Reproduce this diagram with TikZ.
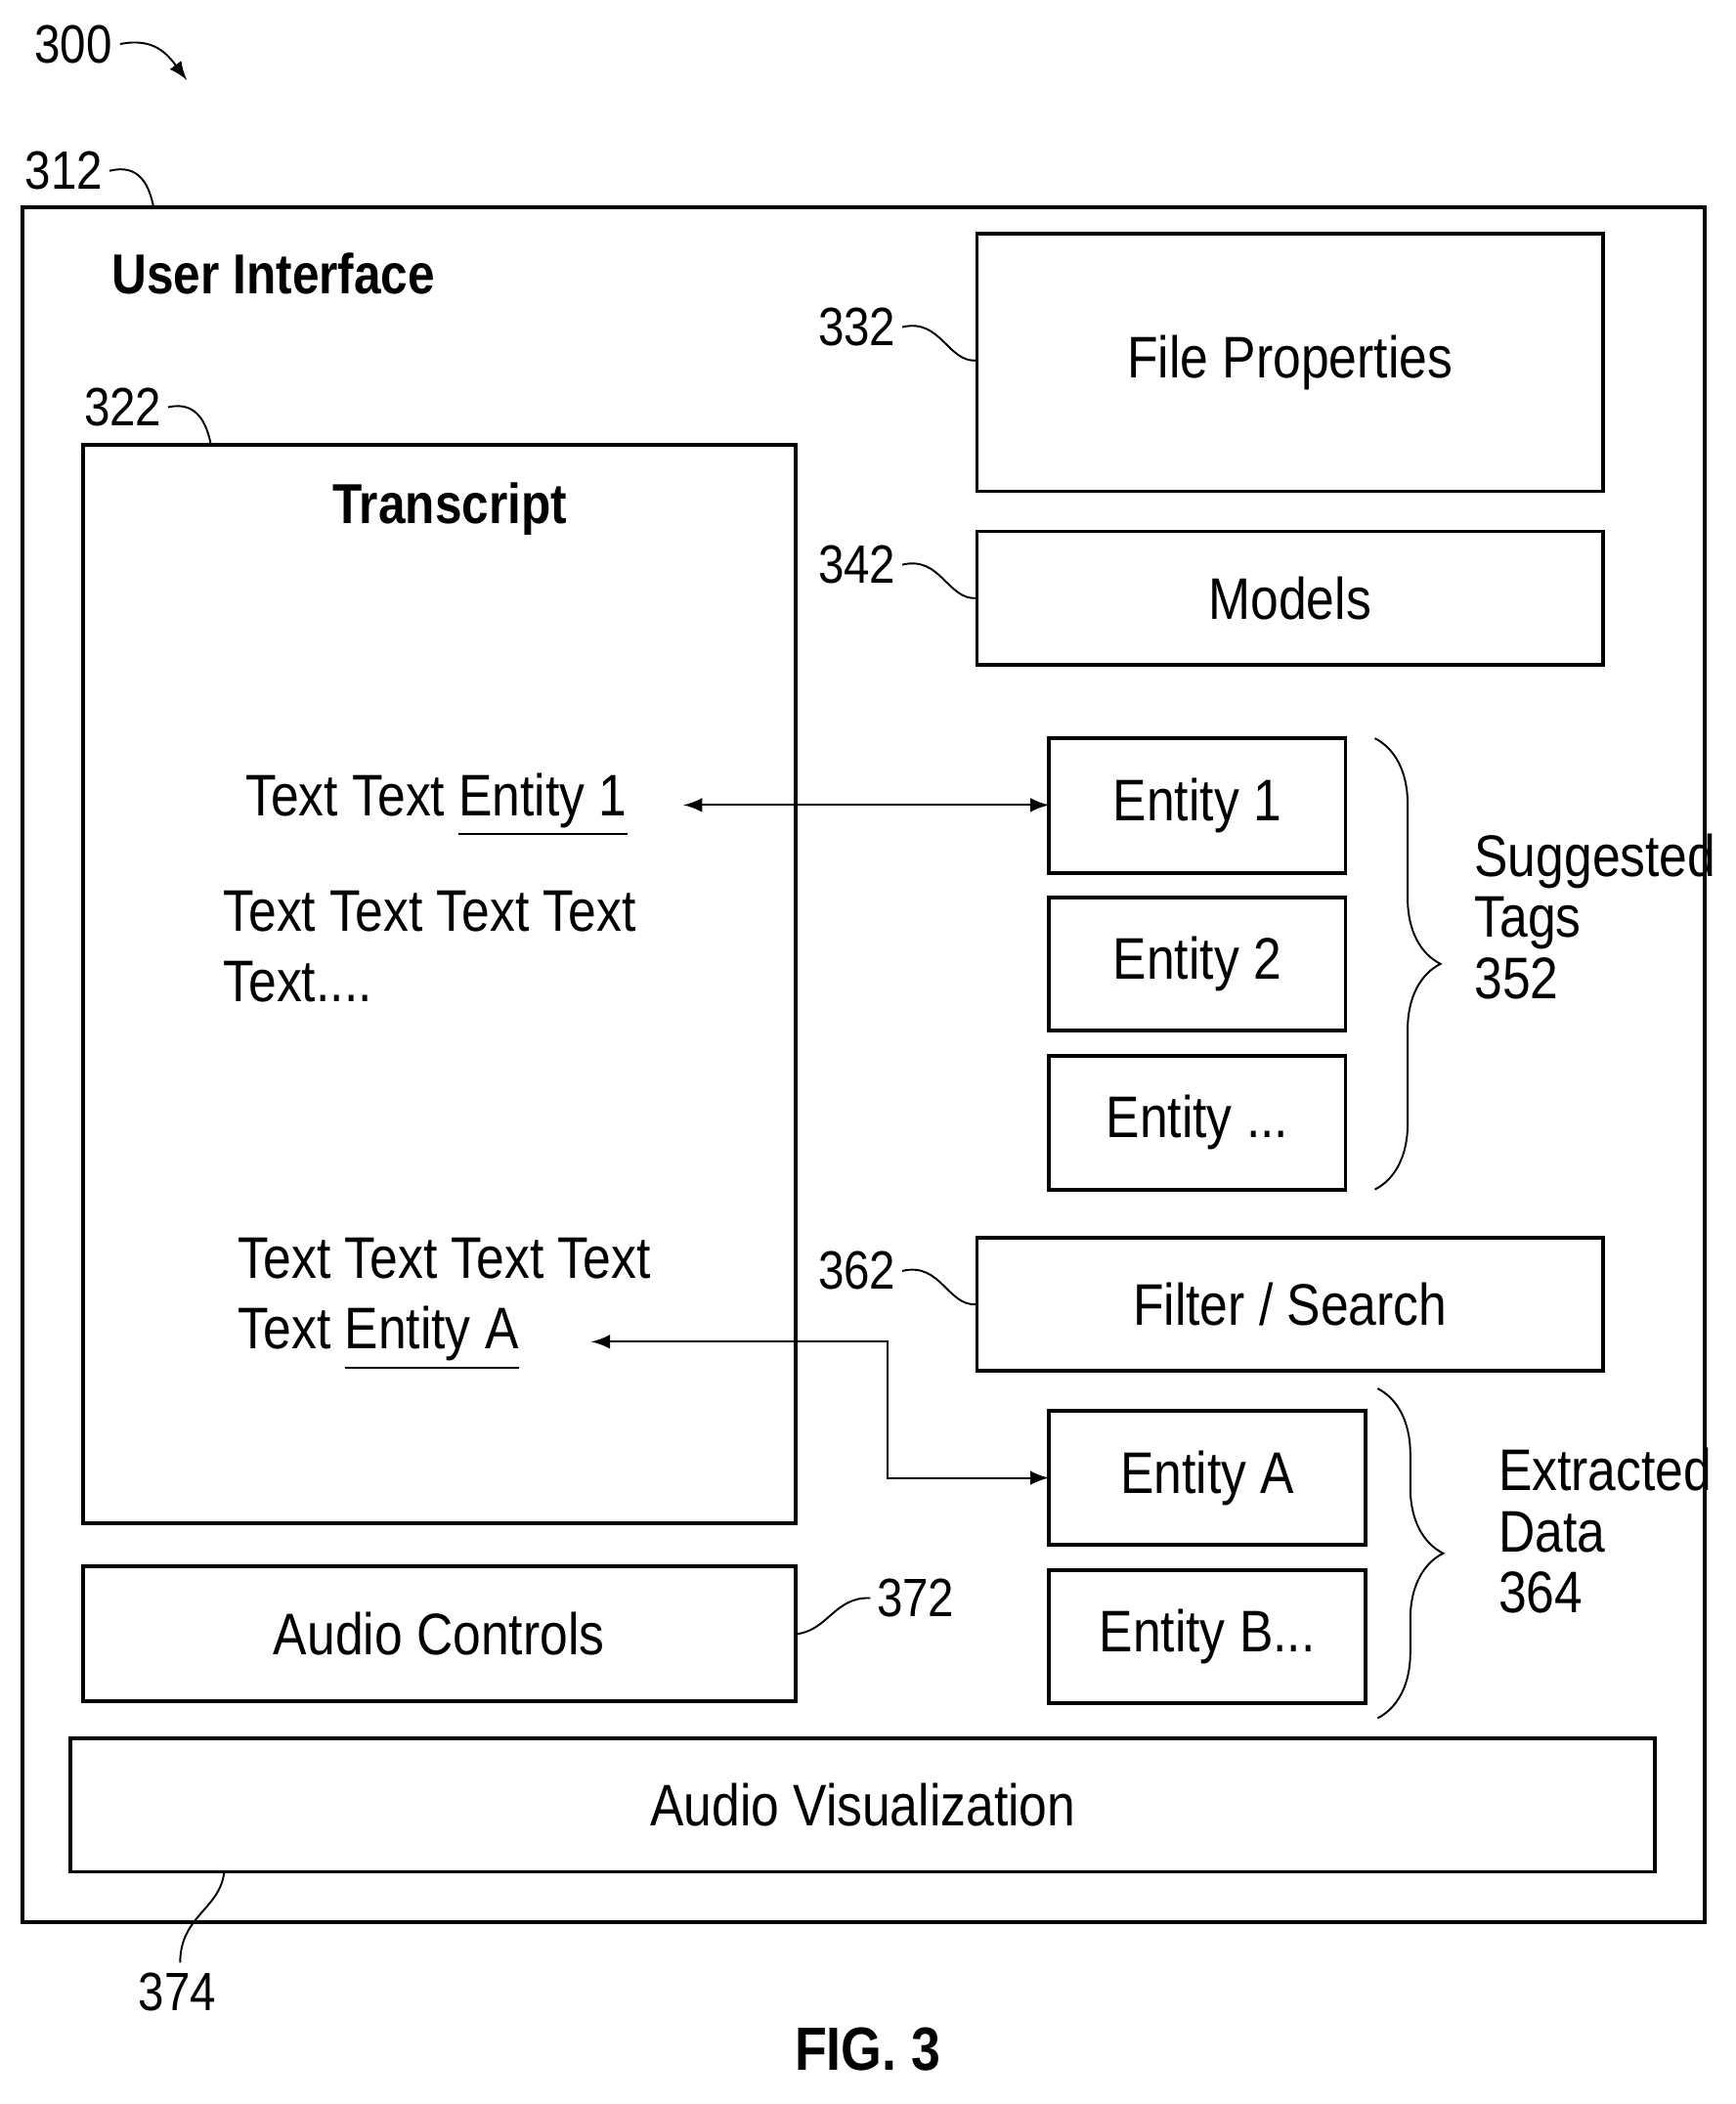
\documentclass[tikz,border=0pt]{standalone}
\usepackage{fontspec}
\setmainfont[FakeStretch=0.86]{Liberation Sans}
\usetikzlibrary{positioning,calc,decorations.pathreplacing}
\begin{document}
\begin{tikzpicture}[x=0.01cm,y=-0.01cm,
box/.style={draw,thick,inner sep=0pt},
lbl/.style={font=\fontsize{12.5}{15}\selectfont},
ref/.style={font=\fontsize{11.5}{14}\selectfont},
ttl/.style={font=\bfseries\fontsize{12}{14}\selectfont},
lead/.style={thin}]
\useasboundingbox (0,0) rectangle (1300,1576);

% outer frame
\draw[box] (17,155) rectangle (1277,1440);
\node[ttl] (ui) at (205,205) {User Interface};

% transcript
\draw[box] (62,333) rectangle (596,1141);
\node[ttl] (ts) at (337,381) {Transcript};
\node[lbl] (t1) at (327,603) {Text Text \underline{Entity 1}};
\node[lbl,anchor=west,align=left] (t2) at (155,709) {Text Text Text Text\\Text....};
\node[lbl,anchor=west,align=left] (t3) at (166,977) {Text Text Text Text\\Text \underline{Entity A}};

% right column
\draw[box] (732,175) rectangle (1201,368) node[midway,lbl] {File Properties};
\draw[box] (732,398) rectangle (1201,498) node[midway,lbl] {Models};
\draw[box] (786,553) rectangle (1008,654) node[midway,lbl] (e1) {Entity 1};
\draw[box] (786,672) rectangle (1008,772) node[midway,lbl] {Entity 2};
\draw[box] (786,791) rectangle (1008,891) node[midway,lbl] {Entity ...};
\draw[box] (732,927) rectangle (1201,1027) node[midway,lbl] {Filter / Search};
\draw[box] (786,1057) rectangle (1023,1157) node[midway,lbl] (ea) {Entity A};
\draw[box] (786,1176) rectangle (1023,1276) node[midway,lbl] {Entity B...};
\draw[box] (62,1173) rectangle (596,1274) node[midway,lbl] {Audio Controls};
\draw[box] (53,1302) rectangle (1240,1402) node[midway,lbl] {Audio Visualization};

% connectors
\coordinate (a1) at (512,603);
\coordinate (b1) at (786,603);
\draw[latex-latex] (a1) -- (b1);
\coordinate (a2) at (443,1005);
\coordinate (b2) at (786,1107);
\draw[latex-latex] (a2) -- (665,1005) -- (665,1107) -- (b2);

% braces
\draw[thin,decorate,decoration={brace,amplitude=14pt}] (1030,553) -- (1030,891);
\node[lbl,anchor=north west,align=left,inner sep=0pt] (st) at (1104,624) {Suggested\\[-2pt]Tags\\[-2pt]352};
\draw[thin,decorate,decoration={brace,amplitude=14pt}] (1032,1040) -- (1032,1287);
\node[lbl,anchor=north west,align=left,inner sep=0pt] (ed) at (1122,1084) {Extracted\\[-2pt]Data\\[-2pt]364};

% reference numerals
\node[ref] (n300) at (55,33) {300};
\draw[lead,-latex] (90,33) .. controls (115,28) and (125,40) .. (140,60);
\node[ref] (n312) at (48,128) {312};
\draw[lead] (82,128) .. controls (105,122) and (112,140) .. (115,155);
\node[ref] (n322) at (92,305) {322};
\draw[lead] (126,305) .. controls (148,300) and (155,318) .. (158,333);
\node[ref] (n332) at (642,245) {332};
\draw[lead] (676,245) .. controls (705,238) and (710,272) .. (732,270);
\node[ref] (n342) at (642,423) {342};
\draw[lead] (676,423) .. controls (705,416) and (710,450) .. (732,448);
\node[ref] (n362) at (642,952) {362};
\draw[lead] (676,952) .. controls (705,945) and (710,979) .. (732,977);
\node[ref] (n372) at (686,1197) {372};
\draw[lead] (596,1224) .. controls (620,1222) and (625,1196) .. (652,1197);
\node[ref] (n374) at (133,1492) {374};
\draw[lead] (168,1402) .. controls (165,1430) and (135,1435) .. (135,1470);
\node[font=\bfseries\fontsize{13}{15}\selectfont] (fig) at (650,1535) {FIG. 3};
\end{tikzpicture}
\end{document}
